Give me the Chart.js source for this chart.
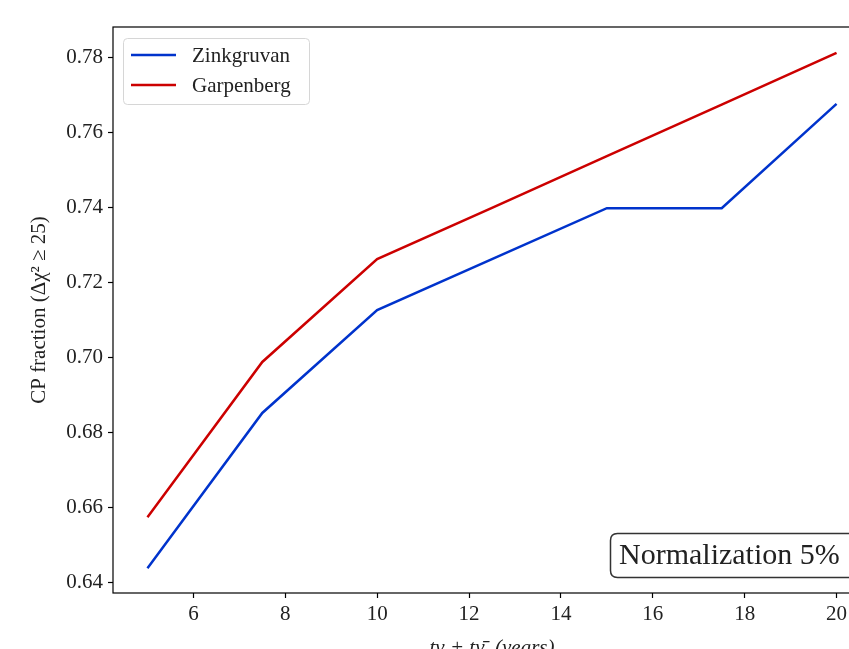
<!DOCTYPE html>
<html>
<head>
<meta charset="utf-8">
<script src="https://cdn.jsdelivr.net/npm/chart.js@4.4.1/dist/chart.umd.min.js"></script>
<style>
  html, body { margin: 0; padding: 0; background: #fff; overflow: hidden; }
  #wrap { width: 900px; height: 665px; position: relative; }
</style>
</head>
<body>
<div id="wrap"><canvas id="cpChart"></canvas></div>
<script>
// total run time t_nu + t_nubar (years)
const years = [5, 7.5, 10, 12.5, 15, 17.5, 20];
const zinkgruvan = [0.6437, 0.6851, 0.7125, 0.7261, 0.7397, 0.7397, 0.7675];
const garpenberg = [0.6573, 0.6987, 0.7261, 0.7398, 0.7536, 0.7673, 0.7811];
const xTicks = [6, 8, 10, 12, 14, 16, 18, 20];
const yTicks = [0.64, 0.66, 0.68, 0.70, 0.72, 0.74, 0.76, 0.78];
const boxText = 'Normalization 5%';

const FONT = '"Liberation Serif", "DejaVu Serif", serif';

function toPoints(xs, ys) {
    let pts = [];
    for (let i = 0; i < xs.length; i++) {
        pts.push({ x: xs[i], y: ys[i] });
    }
    return pts;
}

function roundRect(ctx, x, y, w, h, r) {
    ctx.beginPath();
    ctx.moveTo(x + r, y);
    ctx.lineTo(x + w - r, y);
    ctx.quadraticCurveTo(x + w, y, x + w, y + r);
    ctx.lineTo(x + w, y + h - r);
    ctx.quadraticCurveTo(x + w, y + h, x + w - r, y + h);
    ctx.lineTo(x + r, y + h);
    ctx.quadraticCurveTo(x, y + h, x, y + h - r);
    ctx.lineTo(x, y + r);
    ctx.quadraticCurveTo(x, y, x + r, y);
    ctx.closePath();
}

/* frame, legend box and the text box */
const extras = {
    id: 'extras',
    afterDraw(chart) {
        const ctx = chart.ctx;
        const a = chart.chartArea;
        ctx.save();
        ctx.strokeStyle = '#000';
        ctx.lineWidth = 1.2;
        ctx.strokeRect(a.left, a.top, a.right - a.left, a.bottom - a.top);

        // legend
        const lx = a.left + 10, ly = a.top + 11;
        roundRect(ctx, lx + 0.5, ly + 0.5, 186, 66, 4);
        ctx.fillStyle = 'rgba(255,255,255,0.8)';
        ctx.fill();
        ctx.strokeStyle = '#d6d6d6';
        ctx.lineWidth = 1;
        ctx.stroke();
        ctx.font = '21px ' + FONT;
        ctx.textBaseline = 'middle';
        chart.data.datasets.forEach(function (ds, i) {
            const yy = ly + 17 + i * 30;
            ctx.strokeStyle = ds.borderColor;
            ctx.lineWidth = 2.5;
            ctx.beginPath();
            ctx.moveTo(lx + 8, yy);
            ctx.lineTo(lx + 53, yy);
            ctx.stroke();
            ctx.fillStyle = '#222';
            ctx.fillText(ds.label, lx + 69, yy + 1);
        });

        // normalization box
        roundRect(ctx, 610.5, 533.5, 250, 44, 7);
        ctx.fillStyle = '#fff';
        ctx.fill();
        ctx.strokeStyle = '#333';
        ctx.lineWidth = 1.5;
        ctx.stroke();
        ctx.fillStyle = '#222';
        ctx.font = '30px ' + FONT;
        ctx.textBaseline = 'middle';
        ctx.fillText(boxText, 619, 556);
        ctx.restore();
    }
};

var ctx = document.getElementById('cpChart').getContext('2d');
var myChart = new Chart(ctx, {
    type: 'line',
    data: {
        datasets: [{
            label: 'Zinkgruvan',
            data: toPoints(years, zinkgruvan),
            borderColor: '#0033cc',
            borderWidth: 2.5,
            pointRadius: 0,
            fill: false,
            tension: 0
        }, {
            label: 'Garpenberg',
            data: toPoints(years, garpenberg),
            borderColor: '#cc0000',
            borderWidth: 2.5,
            pointRadius: 0,
            fill: false,
            tension: 0
        }]
    },
    options: {
        responsive: true,
        maintainAspectRatio: false,
        animation: false,
        layout: { padding: { top: 27, right: 29, left: 0, bottom: 0 } },
        plugins: {
            legend: { display: false },
            tooltip: { enabled: false }
        },
        scales: {
            x: {
                type: 'linear',
                min: 4.25,
                max: 20.75,
                afterBuildTicks: function (scale) {
                    scale.ticks = xTicks.map(function (v) { return { value: v }; });
                },
                afterFit: function (scale) { scale.height = 72; },
                grid: { drawOnChartArea: false, drawTicks: true, tickLength: 5, color: '#000', tickWidth: 1.2 },
                border: { display: false },
                ticks: { color: '#222', font: { family: FONT, size: 21 }, padding: 4, maxRotation: 0 },
                title: {
                    display: true,
                    text: 't\u03bd + t\u03bd\u0304  (years)',
                    color: '#222',
                    font: { family: FONT, size: 21, style: 'italic' },
                    padding: { top: 0, bottom: 4 }
                }
            },
            y: {
                min: 0.6371,
                max: 0.788,
                afterBuildTicks: function (scale) {
                    scale.ticks = yTicks.map(function (v) { return { value: v }; });
                },
                afterFit: function (scale) { scale.width = 113; },
                grid: { drawOnChartArea: false, drawTicks: true, tickLength: 5, color: '#000', tickWidth: 1.2 },
                border: { display: false },
                ticks: {
                    color: '#222',
                    font: { family: FONT, size: 21 },
                    padding: 5,
                    callback: function (v) { return Number(v).toFixed(2); }
                },
                title: {
                    display: true,
                    text: 'CP fraction (\u0394\u03c7\u00b2 \u2265 25)',
                    color: '#222',
                    font: { family: FONT, size: 21 },
                    padding: { top: 27, bottom: 0 }
                }
            }
        }
    },
    plugins: [extras]
});
</script>
</body>
</html>
